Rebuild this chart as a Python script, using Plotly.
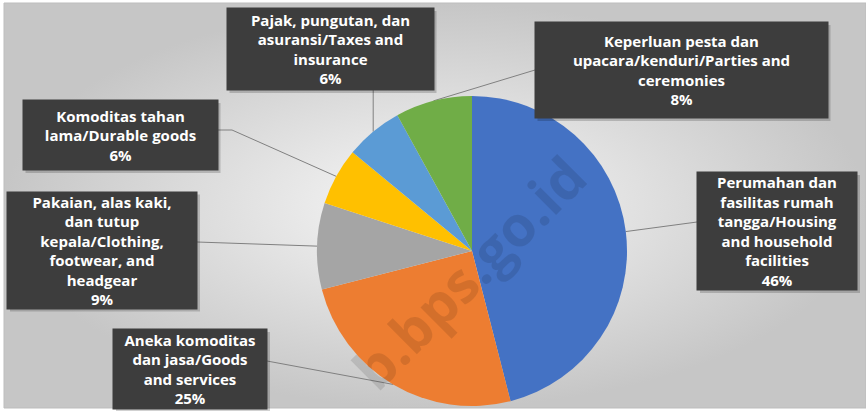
import numpy as np
import plotly.graph_objects as go

# data
labels = [
    "Perumahan dan<br>fasilitas rumah<br>tangga/Housing<br>and household<br>facilities",
    "Aneka komoditas<br>dan jasa/Goods<br>and services",
    "Pakaian, alas kaki,<br>dan tutup<br>kepala/Clothing,<br>footwear, and<br>headgear",
    "Komoditas tahan<br>lama/Durable goods",
    "Pajak, pungutan, dan<br>asuransi/Taxes and<br>insurance",
    "Keperluan pesta dan<br>upacara/kenduri/Parties and<br>ceremonies",
]
values = [46, 25, 9, 6, 6, 8]
colors = ["#4472C4", "#ED7D31", "#A5A5A5", "#FFC000", "#5B9BD5", "#70AD47"]

W, H = 866, 411
cx, cy, r = 472, 251, 155  # pie centre / radius in px

# label boxes: centre x, centre y, width, height (px) and where the leader starts
boxes = [
    dict(x=777, y=231, w=160, h=118, lead=[(697, 222)]),
    dict(x=190, y=369, w=154, h=80, lead=[(267, 361)]),
    dict(x=102, y=250, w=190, h=117, lead=[(197, 242)]),
    dict(x=120, y=135, w=195, h=70, lead=[(218, 130), (232, 130)]),
    dict(x=330, y=49, w=207, h=82, lead=None),
    dict(x=681, y=70, w=293, h=96, lead=[(535, 70)]),
]

fig = go.Figure()

# background panel with soft radial shading
fig.add_trace(go.Scatter(
    x=[4, W, W, 4, 4], y=[3, 3, 408, 408, 3], mode="lines",
    fill="toself", line=dict(color="#bdbdbd", width=1),
    fillgradient=dict(type="radial", colorscale=[[0, "#f8f8f8"], [1, "#c6c6c6"]]),
    hoverinfo="skip", showlegend=False,
))

# leader lines, ending at the middle of each slice edge
total = sum(values)
cum = np.cumsum(values)
for i, b in enumerate(boxes):
    mid = (cum[i] - values[i] / 2) / total
    th = 2 * np.pi * mid
    ex, ey = cx + r * np.sin(th), cy - r * np.cos(th)
    pts = b["lead"] if b["lead"] else [(ex, b["y"] + b["h"] / 2)]
    xs = [p[0] for p in pts] + [ex]
    ys = [p[1] for p in pts] + [ey]
    fig.add_trace(go.Scatter(x=xs, y=ys, mode="lines",
                             line=dict(color="#808080", width=1),
                             hoverinfo="skip", showlegend=False))

fig.add_trace(go.Pie(
    values=values, labels=[l.replace("<br>", " ") for l in labels],
    marker=dict(colors=colors, line=dict(width=0)),
    sort=False, direction="clockwise", rotation=0,
    textinfo="none", hoverinfo="skip", showlegend=False,
    domain=dict(x=[(cx - r) / W, (cx + r) / W],
                y=[(H - cy - r) / H, (H - cy + r) / H]),
))

# watermark
fig.add_annotation(
    x=468, y=272, xref="x", yref="y", text="b.bps.go.id", showarrow=False,
    textangle=-45, font=dict(family="Open Sans", size=56, color="rgba(0,0,0,0.11)", weight="bold"),
)

# label boxes
for i, b in enumerate(boxes):
    fig.add_shape(type="rect", xref="x", yref="y", layer="above",
                  x0=b["x"] - b["w"] / 2 + 3, x1=b["x"] + b["w"] / 2 + 3,
                  y0=b["y"] - b["h"] / 2 + 3, y1=b["y"] + b["h"] / 2 + 3,
                  fillcolor="rgba(0,0,0,0.18)", line=dict(width=0))
    fig.add_annotation(
        x=b["x"], y=b["y"], xref="x", yref="y", showarrow=False,
        text=labels[i] + "<br>" + f"{values[i]}%",
        width=b["w"], height=b["h"], borderpad=0, align="center", valign="middle",
        bgcolor="#3d3d3d",
        font=dict(family="Open Sans", size=15, color="white", weight="bold"),
    )

fig.update_layout(
    width=W, height=H, margin=dict(l=0, r=0, t=0, b=0),
    paper_bgcolor="white", plot_bgcolor="white",
    xaxis=dict(range=[0, W], visible=False, fixedrange=True),
    yaxis=dict(range=[H, 0], visible=False, fixedrange=True),
)

fig.write_html("out.html", config={"displayModeBar": False},
               post_script="document.body.style.margin='0';")
